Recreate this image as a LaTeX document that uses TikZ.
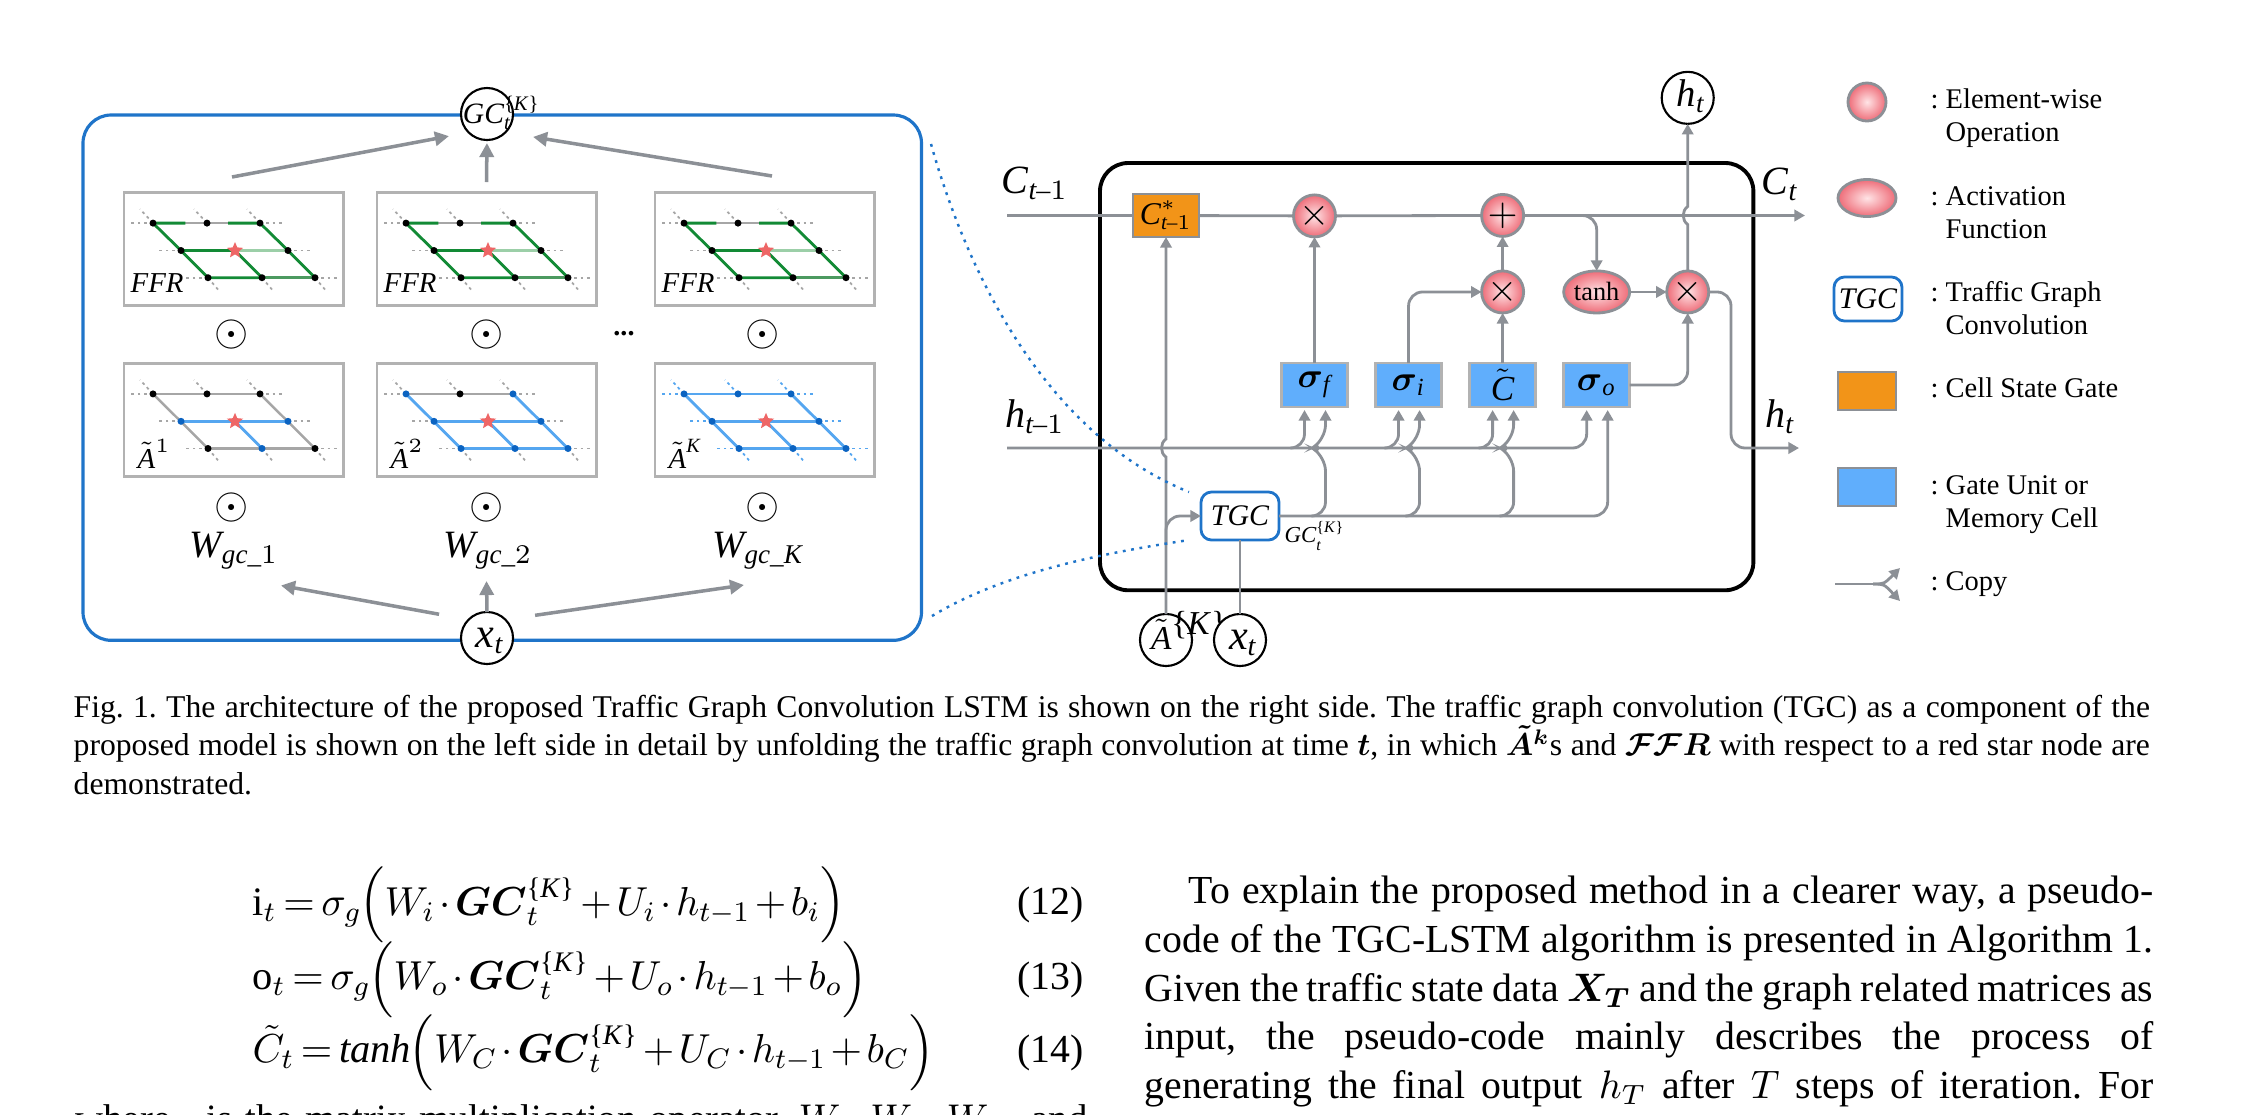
\documentclass[tikz,border=0pt]{standalone}
\usepackage{fix-cm}
\usepackage{amsmath}
\usepackage{fontspec}
\setmainfont{Liberation Serif}
\usetikzlibrary{positioning}
\usetikzlibrary{arrows.meta}
\usetikzlibrary{calc,shapes.geometric}

\definecolor{flowgray}{HTML}{8C9096}
\definecolor{framegray}{HTML}{B2B2B2}
\definecolor{edgegray}{HTML}{A6A6A6}
\definecolor{panelblue}{HTML}{1F74C9}
\definecolor{edgeblue}{HTML}{55A6F0}
\definecolor{dotblue}{HTML}{0B63C1}
\definecolor{edgegreen}{HTML}{128A35}
\definecolor{palegreen}{HTML}{9CCFA8}
\definecolor{midgreen}{HTML}{4C9A60}
\definecolor{starred}{HTML}{EE6666}
\definecolor{gateblue}{HTML}{60AEFC}
\definecolor{cellorange}{HTML}{F29418}
\definecolor{ballin}{HTML}{FFE4E6}
\definecolor{ballout}{HTML}{EE6C78}

\tikzset{
  flow/.style={draw=flowgray,line width=.8pt,-{Triangle[length=3pt,width=3.2pt]}},
  wire/.style={draw=flowgray,line width=.8pt},
  bigflow/.style={draw=flowgray,line width=1pt,-{Triangle[length=4pt,width=4pt]}},
  ring/.style={circle,draw=black,fill=white,line width=.6pt,minimum size=.52cm,inner sep=0pt,outer sep=0pt},
  opball/.style={circle,draw=flowgray,line width=.8pt,inner color=ballin,outer color=ballout,minimum size=.42cm,inner sep=0pt,outer sep=0pt,font=\fontsize{11}{11}\selectfont},
  actball/.style={ellipse,draw=flowgray,line width=.8pt,inner color=ballin,outer color=ballout,minimum width=.66cm,minimum height=.42cm,inner sep=0pt,outer sep=0pt},
  gate/.style={rectangle,draw=framegray,fill=gateblue,line width=.8pt,minimum width=.66cm,minimum height=.44cm,inner sep=0pt,outer sep=0pt,font=\fontsize{10}{10}\selectfont},
  cell/.style={rectangle,draw=flowgray,fill=cellorange,line width=.8pt,minimum width=.66cm,minimum height=.43cm,inner sep=0pt,outer sep=0pt,font=\fontsize{9.5}{10}\selectfont},
  tgcbox/.style={rectangle,rounded corners=3pt,draw=panelblue,fill=white,line width=.8pt,minimum width=.78cm,minimum height=.48cm,inner sep=0pt,outer sep=0pt,font=\fontsize{8.5}{10}\selectfont\itshape},
  gridbox/.style={rectangle,anchor=north west,draw=framegray,line width=.8pt,minimum width=2.19cm,minimum height=1.13cm,outer sep=0pt},
  griddot/.style={circle,minimum size=.07cm,inner sep=0pt},
  gridlabel/.style={anchor=west,inner sep=0pt,font=\fontsize{8.2}{9}\selectfont},
  stub/.style={dash pattern=on .8pt off 1pt,line width=.5pt},
  grayline/.style={draw=edgegray,line width=.7pt},
  blueline/.style={draw=edgeblue,line width=.8pt},
  greenline/.style={draw=edgegreen,line width=.8pt},
  dotlink/.style={draw=panelblue,line width=.7pt,dash pattern=on .8pt off 1.6pt},
  tag/.style={inner sep=0pt,font=\fontsize{11.4}{12}\selectfont},
  legendtext/.style={anchor=north west,align=left,inner sep=0pt,font=\fontsize{8.1}{9.4}\selectfont},
  eqn/.style={anchor=west,inner sep=0pt,font=\fontsize{11.5}{14}\selectfont},
  eqnum/.style={anchor=east,inner sep=0pt,font=\fontsize{11.3}{14}\selectfont},
}

\newcommand{\ti}[1]{\textit{#1}}
\newcommand{\ksup}{\text{\{\textit{K}\}}}
\newcommand{\tone}{\ti{t}\text{--}1}
\newcommand{\tightmath}{\thinmuskip=1mu\relax\medmuskip=2mu\relax\thickmuskip=3mu\relax}
\newcommand{\ringtext}[2]{\smash{\makebox[0pt][l]{\hspace{#1}\raisebox{-.09cm}{#2}}}}
\newcommand{\legendcolon}{\makebox[.15cm][l]{:}}
\newcommand{\hopat}[1]{-- ($#1+(0,9)$) .. controls ($#1+(-6,5)$) and ($#1+(-6,-5)$) .. ($#1+(0,-9)$)}

\newcommand{\ffredges}[1]{
  \draw[grayline] (#1a) -- (#1c);
  \draw[greenline] (#1a) -- ($(#1a)!.6!(#1b)$);
  \draw[greenline] ($(#1b)!.4!(#1c)$) -- (#1c);
  \draw[greenline] (#1a) -- (#1d) -- (#1g) -- (#1h);
  \draw[greenline] (#1c) -- (#1f) -- (#1i);
  \draw[greenline] (#1d) -- (#1e) -- (#1h);
  \draw[draw=palegreen,line width=.8pt] (#1e) -- (#1f);
  \draw[draw=midgreen,line width=.8pt] (#1h) -- (#1i);
}
\newcommand{\aoneedges}[1]{
  \draw[grayline] (#1a) -- (#1c);
  \draw[grayline] (#1g) -- (#1i);
  \draw[grayline] (#1a) -- (#1g);
  \draw[grayline] (#1c) -- (#1i);
  \draw[blueline] (#1d) -- (#1f);
  \draw[blueline] (#1e) -- (#1h);
}
\newcommand{\atwoedges}[1]{
  \draw[grayline] (#1a) -- (#1c);
  \draw[blueline] (#1a) -- (#1g) -- (#1i) -- (#1c);
  \draw[blueline] (#1d) -- (#1f);
  \draw[blueline] (#1e) -- (#1h);
}
\newcommand{\akedges}[1]{
  \draw[blueline] (#1a) -- (#1c);
  \draw[blueline] (#1a) -- (#1g) -- (#1i) -- (#1c);
  \draw[blueline] (#1d) -- (#1f);
  \draw[blueline] (#1e) -- (#1h);
}

\newcommand{\gridpanel}[7]{
  \begin{scope}[shift={(#2,#3)}]
    \node[gridbox] (#1box) at (0,0) {};
    \foreach \n/\px/\py in {a/29/30.4,b/83/30.4,c/136/30.4,d/57/57.8,e/111/57.8,f/164/57.8,g/84/85,h/138/85,i/191/85}
      \coordinate (#1\n) at (\px,\py);
    \foreach \n/\dx/\dy in {a/-24/0,a/-13/-14,b/-13/-14,c/-13/-14,c/22/0,d/-22/0,f/22/0,g/-22/0,i/22/0,g/11/13,h/11/13,i/11/13}
      \draw[stub,draw=#4] (#1\n) -- ++(\dx,\dy);
    #5{#1}
    \foreach \n/\col in #6
      \node[griddot,fill=\col] (#1\n-dot) at (#1\n) {};
    \node[star,star points=5,star point ratio=2.2,fill=starred,minimum size=.17cm,inner sep=0pt] (#1star) at (#1e) {};
    \node[gridlabel] (#1label) at (6,90) {#7};
  \end{scope}
}

\newcommand{\ffrdots}{a/black,b/black,c/black,d/black,f/black,g/black,h/black,i/black}
\newcommand{\aonedots}{a/black,b/black,c/black,d/dotblue,f/dotblue,g/black,h/dotblue,i/black}
\newcommand{\atwodots}{a/dotblue,b/black,c/dotblue,d/dotblue,f/dotblue,g/dotblue,h/dotblue,i/dotblue}
\newcommand{\akdots}{a/dotblue,b/dotblue,c/dotblue,d/dotblue,f/dotblue,g/dotblue,h/dotblue,i/dotblue}

\begin{document}
\begin{tikzpicture}[x=0.01cm,y=-0.01cm]
    \path[use as bounding box,clip] (0,0) rectangle (2245,1114);

    % left panel
    \node[rectangle,rounded corners=8pt,draw=panelblue,line width=.9pt,minimum width=8.38cm,minimum height=5.25cm,anchor=north west,outer sep=0pt] (panel) at (83,115) {};
    \node[ring] (gc) at (487,114) {\ringtext{-.24cm}{\fontsize{8.4}{9}\selectfont$\ti{GC}_{\ti{t}}^{\ksup}$}};
    \node[ring] (xleft) at (487,638) {\ringtext{-.11cm}{\fontsize{12}{12}\selectfont$\ti{x}_{\ti{t}}$}};

    \gridpanel{fa}{124}{192.7}{edgegray}{\ffredges}{\ffrdots}{\ti{FFR}}
    \gridpanel{fb}{377}{192.7}{edgegray}{\ffredges}{\ffrdots}{\ti{FFR}}
    \gridpanel{fc}{655}{192.7}{edgegray}{\ffredges}{\ffrdots}{\ti{FFR}}
    \gridpanel{aa}{124}{363.5}{edgegray}{\aoneedges}{\aonedots}{\hspace{.07cm}$\tilde{\ti{A}}^{1}$}
    \gridpanel{ab}{377}{363.5}{edgegray}{\atwoedges}{\atwodots}{\hspace{.07cm}$\tilde{\ti{A}}^{2}$}
    \gridpanel{ac}{655}{363.5}{edgeblue}{\akedges}{\akdots}{\hspace{.07cm}$\tilde{\ti{A}}^{\ti{K}}$}

    \foreach \nm/\px/\py in {oa/232/334,ob/486.5/334,oc/762.5/334,od/232/507,oe/486.5/507,of/762.5/507}
      \node[inner sep=0pt] (\nm) at (\px,\py) {\fontsize{12.5}{13}\selectfont$\odot$};
    \node[inner sep=0pt,font=\fontsize{8}{9}\selectfont] (more) at (624,334) {\textbf{...}};

    \node[tag,font=\fontsize{11}{12}\selectfont] (wa) at (234,551) {$\ti{W}_{\ti{gc}\_1}$};
    \node[tag,font=\fontsize{11}{12}\selectfont] (wb) at (488,551) {$\ti{W}_{\ti{gc}\_2}$};
    \node[tag,font=\fontsize{11}{12}\selectfont] (wc) at (758,551) {$\ti{W}_{\ti{gc}\_\ti{K}}$};

    \coordinate (gcfroma) at (232,177);
    \coordinate (gcfromb) at (486.5,182);
    \coordinate (gcfromc) at (772,176);
    \coordinate (xtoa) at (281,585.5);
    \coordinate (xtob) at (486.5,581);
    \coordinate (xtoc) at (744,585);
    \draw[bigflow,shorten >=.2cm] (gcfroma) -- (gc.south west);
    \draw[bigflow,shorten >=.03cm] (gcfromb) -- (gc.south);
    \draw[bigflow,shorten >=.28cm] (gcfromc) -- (gc.south east);
    \draw[bigflow,shorten <=.3cm] (xleft.north west) -- (xtoa);
    \draw[bigflow] (xleft.north) -- (xtob);
    \draw[bigflow,shorten <=.3cm] (xleft.north east) -- (xtoc);

    % right part
    \node[rectangle,rounded corners=8pt,draw=black,line width=1.1pt,minimum width=6.53cm,minimum height=4.27cm,anchor=north west,outer sep=0pt] (cellframe) at (1100,163) {};
    \node[cell,font=\fontsize{9}{10}\selectfont] (cstar) at (1166,215.5) {$\ti{C}^{*}_{\tone}$};
    \node[gate] (sigmaf) at (1314.5,385) {$\boldsymbol{\sigma}_{\ti{f}}$};
    \node[gate] (sigmai) [right = 0.28cm of sigmaf] {$\boldsymbol{\sigma}_{\ti{i}}$};
    \node[gate] (ctil) [right = 0.28cm of sigmai] {$\tilde{\ti{C}}$};
    \node[gate] (sigmao) [right = 0.28cm of ctil] {$\boldsymbol{\sigma}_{\ti{o}}$};
    \node[opball] (mulf) [above = 1.26cm of sigmaf] {$\times$};
    \node[opball] (muli) [above = 0.5cm of ctil] {$\times$};
    \node[opball] (plus) [above = 0.345cm of muli] {$+$};
    \node[actball] (tanh) [above = 0.5cm of sigmao] {\fontsize{7.5}{8}\selectfont tanh};
    \node[opball] (mulo) [right = 0.37cm of tanh] {$\times$};
    \node[ring] (ht) [above = 1.47cm of mulo] {\ringtext{-.11cm}{\fontsize{11}{12}\selectfont$\ti{h}_{\ti{t}}$}};
    \node[tgcbox] (tgc) at (1240,516) {TGC};
    \node[ring] (atilde) at (1166,640) {\ringtext{-.15cm}{\fontsize{9.5}{12}\selectfont$\tilde{\ti{A}}^{\raisebox{-.06cm}{\ksup}}$}};
    \node[ring] (xright) at (1240,640) {\ringtext{-.11cm}{\fontsize{12}{12}\selectfont$\ti{x}_{\ti{t}}$}};
    \node[inner sep=0pt,anchor=west,font=\fontsize{6.5}{7}\selectfont] (gclabel) at (1284,536) {$\ti{GC}_{\ti{t}}^{\ksup}$};

    \node[tag] (cprev) at (1035,183) {$\ti{C}_{\tone}$};
    \node[tag] (hprev) at (1035,417) {$\ti{h}_{\tone}$};
    \node[tag] (cnext) at (1780,184) {$\ti{C}_{\ti{t}}$};
    \node[tag] (hnext) at (1780,417) {$\ti{h}_{\ti{t}}$};

    \coordinate (cin) at (1007,215.5);
    \coordinate (cout) at (1805,215.5);
    \coordinate (ctap) at (1582,215.5);
    \coordinate (hin) at (1007,448);
    \coordinate (hout) at (1799,448);
    \coordinate (hturn) at (1731,448);
    \coordinate (atap) at (1166,545);

    \draw[wire] (cin) -- (cstar);
    \draw[wire] (cstar) -- (mulf);
    \draw[wire] (mulf) -- (plus);
    \draw[flow] (plus) -- (cout);
    \draw[flow,rounded corners=4pt] (ctap) -| (tanh.north);
    \draw[flow] (sigmaf) -- (mulf);
    \draw[flow,rounded corners=4pt] (sigmai.north) |- (muli.west);
    \draw[flow] (ctil) -- (muli);
    \draw[flow] (muli) -- (plus);
    \draw[flow] (tanh) -- (mulo);
    \draw[flow,rounded corners=4pt] (sigmao.east) -| (mulo.south);
    \draw[flow] (mulo.north) \hopat{(mulo|-cin)} -- (ht.south);
    \draw[flow,rounded corners=4pt] (mulo.east) -| (hturn) -- (hout);
    \draw[flow,rounded corners=4pt] (hin) -| ($(sigmao.south)+(-10,3)$);
    \foreach \g in {sigmaf,sigmai,ctil} {
      \draw[flow,rounded corners=4pt] ($(\g.south)+(-24,41)$) -| ($(\g.south)+(-10,3)$);
      \draw[flow,rounded corners=4pt] ($(\g.south)+(-2,109)$) -| ($(\g.south)+(11,50)$) .. controls ($(\g.south)+(5,46)$) and ($(\g.south)+(5,36)$) .. ($(\g.south)+(11,32)$) -- ($(\g.south)+(11,3)$);
    }
    \draw[flow,rounded corners=4pt] (tgc.east) -| ($(sigmao.south)+(11,3)$);
    \draw[flow] (atilde.north) \hopat{(atilde|-hin)} -- (cstar.south);
    \draw[flow,rounded corners=4pt] (atap) |- (tgc.west);
    \draw[wire] (xright) -- (tgc);

    % dotted links
    \coordinate (linka) at (931,144);
    \coordinate (linkb) at (932,616);
    \draw[dotlink] (linka) .. controls (975,300) and (1060,440) .. ($(tgc.north west)+(-12,0)$);
    \draw[dotlink] (linkb) .. controls (1000,575) and (1090,555) .. ($(tgc.south west)+(-12,0)$);

    % legend
    \node[opball,minimum size=.38cm] (legball) at (1867,102) {};
    \node[actball,minimum width=.58cm,minimum height=.37cm] (legact) at (1867,198) {};
    \node[tgcbox,minimum width=.68cm,minimum height=.44cm] (legtgc) at (1868,299) {TGC};
    \node[cell,minimum width=.58cm,minimum height=.38cm] (legcell) at (1867,391) {};
    \node[gate,draw=flowgray,minimum width=.58cm,minimum height=.38cm] (leggate) at (1867,487) {};
    \coordinate (copyin) at (1835,584);
    \coordinate (copytap) at (1873,584);
    \coordinate (copyup) at (1900,568);
    \coordinate (copydown) at (1900,601);
    \draw[wire] (copyin) -- (copytap);
    \draw[flow] (copytap) .. controls (1884,584) .. (copyup);
    \draw[flow] (copytap) .. controls (1884,584) .. (copydown);
    \node[legendtext] (txta) at (1930,88) {\legendcolon Element-wise\\\hspace{.15cm}Operation};
    \node[legendtext] (txtb) at (1930,186) {\legendcolon Activation\\\hspace{.15cm}Function};
    \node[legendtext] (txtc) at (1930,281) {\legendcolon Traffic Graph\\\hspace{.15cm}Convolution};
    \node[legendtext] (txtd) at (1930,377) {\legendcolon Cell State Gate};
    \node[legendtext] (txte) at (1930,475) {\legendcolon Gate Unit or\\\hspace{.15cm}Memory Cell};
    \node[legendtext] (txtf) at (1930,571) {\legendcolon Copy};

    % caption and page text
    \node[anchor=north west,inner sep=0pt,text width=20.75cm,align=justify,font=\fontsize{9}{10.95}\selectfont\frenchspacing] (caption) at (73,694) {Fig. 1. The architecture of the proposed Traffic Graph Convolution LSTM is shown on the right side. The traffic graph convolution (TGC) as a component of the\linebreak proposed model is shown on the left side in detail by unfolding the traffic graph convolution at time $\boldsymbol{t}$, in which $\boldsymbol{\tilde{A}^{k}}$s and $\boldsymbol{\mathcal{F}\mathcal{F}R}$ with respect to a red star node are\linebreak demonstrated.};

    \node[eqn] (eqa) at (252,905) {\tightmath$\mathrm{i}_t=\sigma_g\!\Big(W_i\cdot\boldsymbol{GC}_t^{\ksup}+U_i\cdot h_{t-1}+b_i\Big)$};
    \node[eqn] (eqb) at (252,979.5) {\tightmath$\mathrm{o}_t=\sigma_g\!\Big(W_o\cdot\boldsymbol{GC}_t^{\ksup}+U_o\cdot h_{t-1}+b_o\Big)$};
    \node[eqn] (eqc) at (252,1052.5) {\tightmath$\tilde{C}_t=\mathit{tanh}\!\Big(W_C\cdot\boldsymbol{GC}_t^{\ksup}+U_C\cdot h_{t-1}+b_C\Big)$};
    \node[eqnum] (numa) at (1084,905) {(12)};
    \node[eqnum] (numb) at (1084,979.5) {(13)};
    \node[eqnum] (numc) at (1084,1052.5) {(14)};
    \node[anchor=north west,inner sep=0pt,text width=10.09cm,font=\fontsize{11}{13.9}\selectfont\frenchspacing] (lastline) at (75,1104) {\makebox[\linewidth][s]{where $\cdot$ is the matrix multiplication operator. $W_i$, $W_o$, $W_C$, and}};

    \node[anchor=north west,inner sep=0pt,text width=10.08cm,align=justify,font=\fontsize{11.3}{13.9}\selectfont\frenchspacing] (bodytext) at (1144,875) {\hspace*{.44cm}To explain the proposed method in a clearer way, a pseudo-\linebreak code of the TGC-LSTM algorithm is presented in Algorithm 1.\linebreak Given the traffic state data $\boldsymbol{X_T}$ and the graph related matrices as\linebreak input, the pseudo-code mainly describes the process of\linebreak \makebox[\linewidth][s]{generating the final output $h_T$ after $T$ steps of iteration. For}};
\end{tikzpicture}
\end{document}
